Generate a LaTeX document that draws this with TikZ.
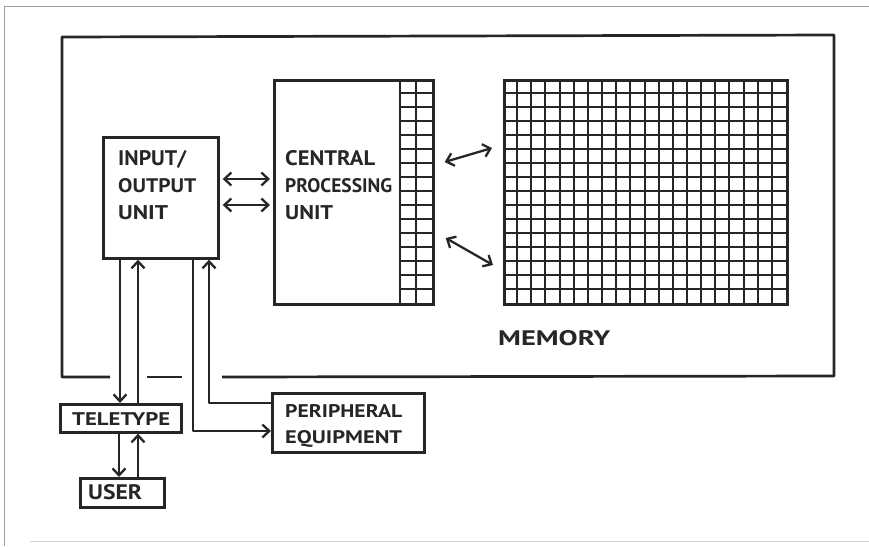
\documentclass[tikz,border=0pt]{standalone}
\usepackage{fontspec}
\usepackage{graphicx}
\newfontfamily\hand{PT Sans}
\newcommand\fitword[3]{\resizebox{#1}{#2}{#3}}
\usetikzlibrary{arrows.meta,calc}
\definecolor{ink}{HTML}{262626}
\begin{document}
\begin{tikzpicture}[x=1pt,y=-1pt,
  boxnode/.style={draw=ink, line width=2.7pt, inner sep=0pt, anchor=north west},
  lbl/.style={font=\hand\bfseries\fontsize{20}{27}\selectfont, align=left, inner sep=0pt, anchor=north west, text=ink},
  conn/.style={draw=ink, line width=2.3pt, line join=round, -{Straight Barb[length=7pt,width=13pt]}},
  bi/.style={draw=ink, line width=2.3pt, {Straight Barb[length=7pt,width=13pt]}-{Straight Barb[length=7pt,width=13pt]}},
  gridln/.style={draw=ink, line width=2.2pt},
]
\useasboundingbox (0,0) rectangle (869,546);
\fill[white] (0,0) rectangle (869,546);
% scan frame
\draw[gray!75, line width=0.9pt] (869,6) -- (4,6) -- (4,546);
\draw[gray!35, line width=0.9pt] (30,541) -- (869,541);

% memory outline with gaps in the bottom edge
\draw[ink, line width=2.7pt, line join=round] (110,377) -- (62,377) -- (62,37) -- (834,35) -- (834,376) -- (222,377);
\draw[ink, line width=2.7pt] (147,377) -- (182,377);

% boxes
\node[boxnode, minimum width=115pt, minimum height=121pt] (io) at (102,136) {};
\node[boxnode, minimum width=159pt, minimum height=224pt] (cpu) at (273,79) {};
\node[boxnode, minimum width=283pt, minimum height=224pt] (memgrid) at (503,79) {};
\node[boxnode, minimum width=121pt, minimum height=28pt] (tty) at (59,403) {};
\node[boxnode, minimum width=84pt, minimum height=29pt] (user) at (79,477) {};
\node[boxnode, minimum width=152pt, minimum height=59pt] (per) at (271,392) {};

% CPU register column
\draw[gridln] (400,79) -- (400,303);
\draw[gridln] (416,79) -- (416,303);
\foreach \i in {1,...,15} \draw[gridln] (400,{79+\i*14}) -- (432,{79+\i*14});

% memory grid
\foreach \i in {1,...,19} \draw[gridln] ({503+round(\i*283/20)},79) -- ({503+round(\i*283/20)},303);
\foreach \j in {1,...,15} \draw[gridln] (503,{79+\j*14}) -- (786,{79+\j*14});

% labels
\node[lbl] (iot) at (118,150) {\fitword{68pt}{15pt}{INPUT/}\\\fitword{78pt}{14pt}{OUTPUT}\\\fitword{50pt}{14pt}{UNIT}};
\node[lbl] (cput) at (285,150) {\fitword{90pt}{15pt}{CENTRAL}\\\fitword{107pt}{14pt}{PROCESSING}\\\fitword{48pt}{14pt}{UNIT}};
\node[lbl] (memt) at (498,330) {\fitword{112pt}{15pt}{MEMORY}};
\node[lbl] (ttyt) at (72,412) {\fitword{98pt}{13pt}{TELETYPE}};
\node[lbl] (pert) at (285,404) {\fitword{117pt}{13pt}{PERIPHERAL}\\[-1pt]\fitword{117pt}{13pt}{EQUIPMENT}};
\node[lbl] (usert) at (88,484) {\fitword{54pt}{15pt}{USER}};

% connectors
\draw[bi] ([xshift=3pt]io.east |- 0,179) -- ([xshift=-3pt]cpu.west |- 0,179);
\draw[bi] ([xshift=3pt]io.east |- 0,205) -- ([xshift=-3pt]cpu.west |- 0,205);
\draw[bi] ([xshift=10pt]cpu.east |- 0,162) -- ([xshift=-11pt]memgrid.west |- 0,148);
\draw[bi] ([xshift=11pt]cpu.east |- 0,238) -- ([xshift=-10pt]memgrid.west |- 0,265);

\draw[conn] (io.south -| 120,0) -- (tty.north -| 120,0);
\draw[conn] (tty.north -| 138,0) -- (io.south -| 138,0);
\draw[conn] (tty.south -| 119,0) -- (user.north -| 119,0);
\draw[conn] (user.north -| 138,0) -- (tty.south -| 138,0);
\draw[conn] (io.south -| 193,0) |- (per.west |- 0,431);
\draw[conn] (per.west |- 0,403) -| (io.south -| 209,0);
\end{tikzpicture}
\end{document}
